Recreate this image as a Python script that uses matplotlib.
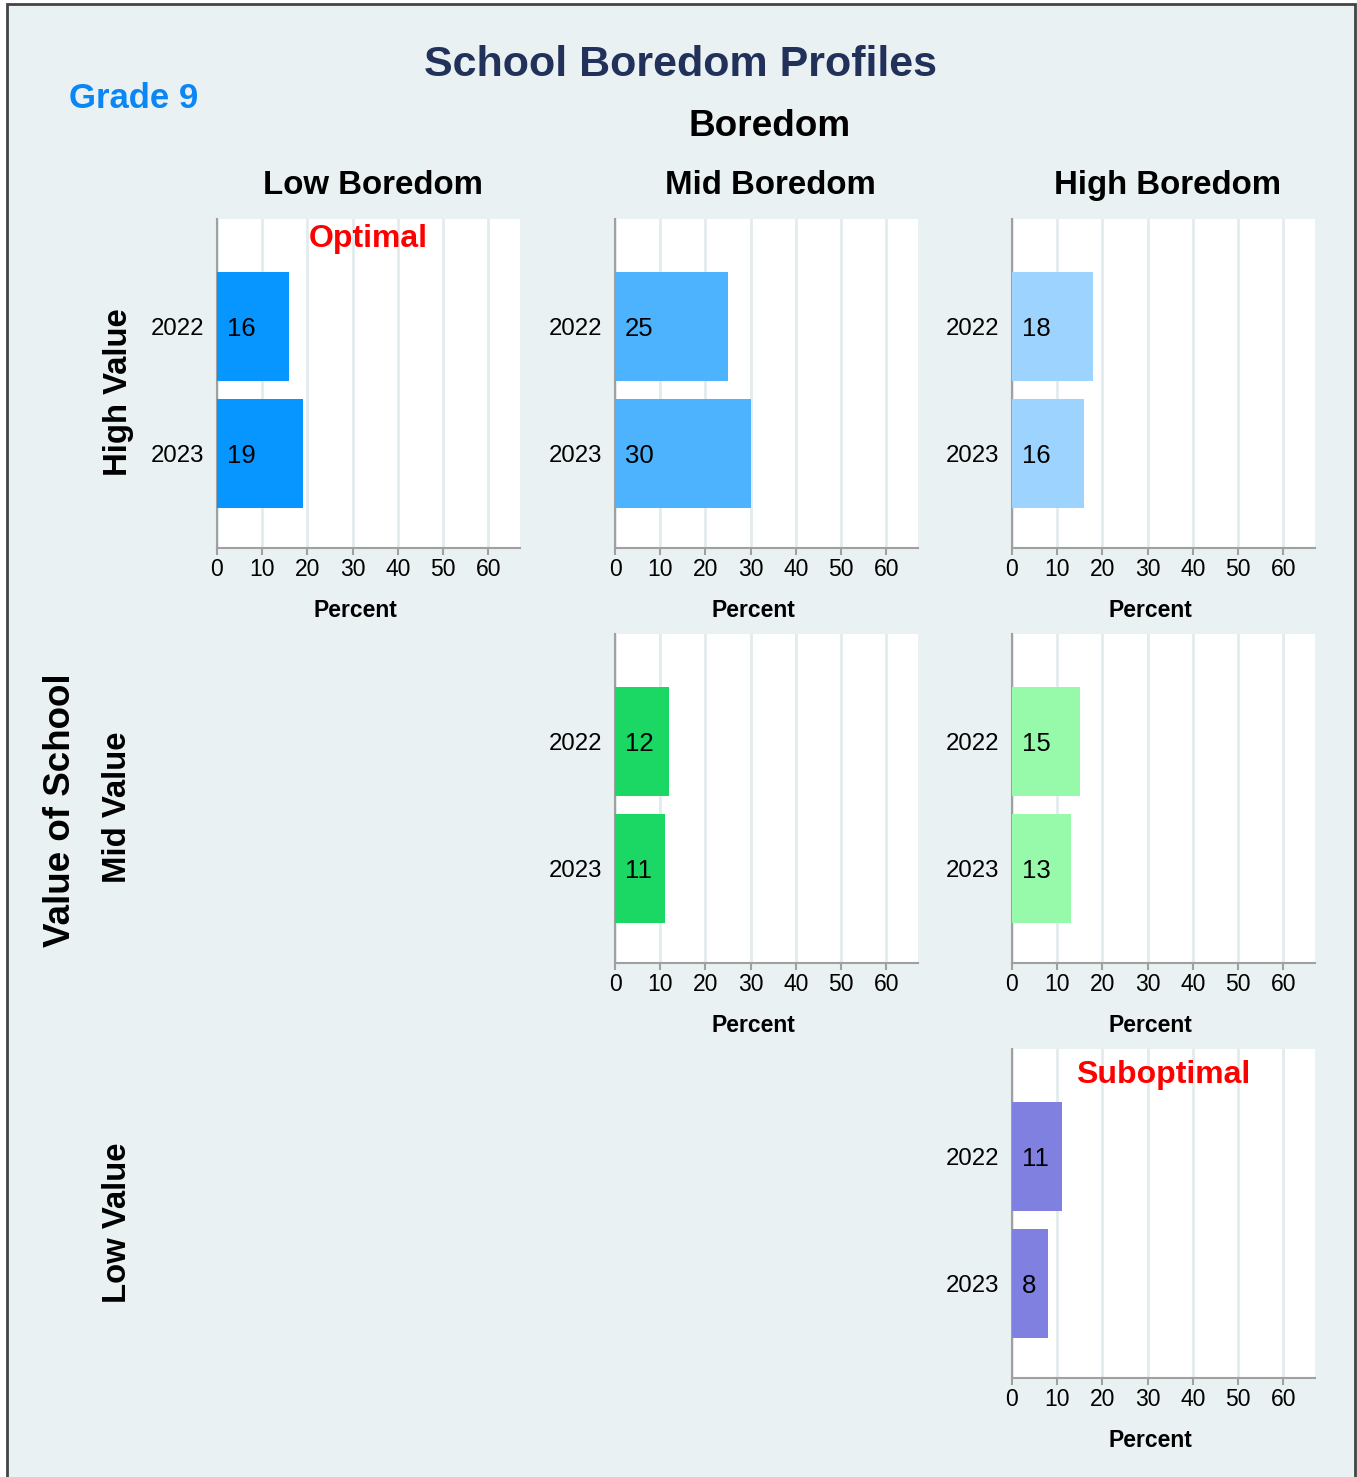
import matplotlib.pyplot as plt
from matplotlib.patches import Rectangle

plt.rcParams['font.family'] = ['Liberation Sans', 'DejaVu Sans']

years = ['2022', '2023']
boredom_levels = ['Low Boredom', 'Mid Boredom', 'High Boredom']
value_levels = ['High Value', 'Mid Value', 'Low Value']

# percent of students per (value row, boredom column)
high_value_low_boredom = [16, 19]
high_value_mid_boredom = [25, 30]
high_value_high_boredom = [18, 16]
mid_value_mid_boredom = [12, 11]
mid_value_high_boredom = [15, 13]
low_value_high_boredom = [11, 8]

cells = [
    (0, 0, high_value_low_boredom, '#0796FF'),
    (0, 1, high_value_mid_boredom, '#4DB3FF'),
    (0, 2, high_value_high_boredom, '#9DD3FF'),
    (1, 1, mid_value_mid_boredom, '#1AD863'),
    (1, 2, mid_value_high_boredom, '#97F9AA'),
    (2, 2, low_value_high_boredom, '#8080E1'),
]
# note text and its distance (px) below the panel top
notes = {(0, 0): ('Optimal', 16), (2, 2): ('Suboptimal', 22)}

W, H = 1357, 1477
fig = plt.figure(figsize=(W / 100, H / 100), dpi=100)
fig.patch.set_facecolor('white')

# framed background (bottom edge runs off the canvas)
fig.patches.append(Rectangle((7 / W, -0.05), (1355 - 7) / W, 1.05 - 4 / H,
                             transform=fig.transFigure, facecolor='#E9F1F3',
                             edgecolor='#444444', linewidth=2, zorder=-10))

col_left = [217, 615, 1012]
row_top = [219, 634, 1049]
pw, ph = 303, 329


def fx(px):
    return px / W


def fy(py):
    return 1 - py / H


for r, c, vals, color in cells:
    ax = fig.add_axes([fx(col_left[c]), fy(row_top[r] + ph), pw / W, ph / H])
    ax.set_facecolor('white')
    ax.barh(range(len(years)), vals, height=0.858, color=color, zorder=3)
    for i, v in enumerate(vals):
        ax.annotate(str(v), (0, i), xytext=(7.2, 0), textcoords='offset points',
                    ha='left', va='center_baseline', fontsize=18.5,
                    color='black', zorder=4)
    ax.set_xlim(0, 67)
    ax.set_ylim(1.744, -0.846)
    ax.set_xticks(range(0, 61, 10))
    ax.set_yticks(range(len(years)))
    ax.set_yticklabels(years)
    ax.grid(axis='x', color='#E2EBEE', linewidth=2, zorder=0)
    ax.set_axisbelow(True)
    for s in ['top', 'right']:
        ax.spines[s].set_visible(False)
    for s in ['left', 'bottom']:
        ax.spines[s].set_color('#A0A0A0')
        ax.spines[s].set_linewidth(1.5)
    ax.tick_params(axis='x', length=5, width=1.5, color='#A0A0A0',
                   labelsize=16.5, pad=2)
    ax.tick_params(axis='y', length=0, labelsize=17.3, pad=9)
    ax.set_xlabel('Percent', fontsize=16.5, fontweight='bold')
    ax.xaxis.set_label_coords((pw / 2 - 13) / pw, -60 / ph)
    ax.xaxis.label.set_va('center_baseline')
    if (r, c) in notes:
        label, dy = notes[(r, c)]
        ax.text(0.5, 1 - dy / ph, label, transform=ax.transAxes,
                ha='center', va='center_baseline', fontsize=23,
                fontweight='bold', color='#FF0000', zorder=5)

# column and row headers
for c, name in enumerate(boredom_levels):
    fig.text(fx(col_left[c] + pw / 2 + 4), fy(182), name, ha='center',
             va='center_baseline', fontsize=23.8, fontweight='bold')
for r, name in enumerate(value_levels):
    fig.text(fx(118), fy(row_top[r] + ph / 2 + 9), name, ha='center',
             va='center', rotation=90, rotation_mode='anchor',
             fontsize=23.7, fontweight='bold')

fig.text(fx(770), fy(122), 'Boredom', ha='center', va='center_baseline',
         fontsize=26.6, fontweight='bold')
fig.text(fx(61), fy(810), 'Value of School', ha='center', va='center',
         rotation=90, rotation_mode='anchor', fontsize=26.5, fontweight='bold')
fig.text(fx(680), fy(60), 'School Boredom Profiles', ha='center',
         va='center_baseline', fontsize=31, fontweight='bold', color='#22315A')
fig.text(fx(134), fy(95), 'Grade 9', ha='center', va='center_baseline',
         fontsize=25, fontweight='bold', color='#0A86F5')

fig.savefig('out.png', dpi=100, facecolor=fig.get_facecolor())
